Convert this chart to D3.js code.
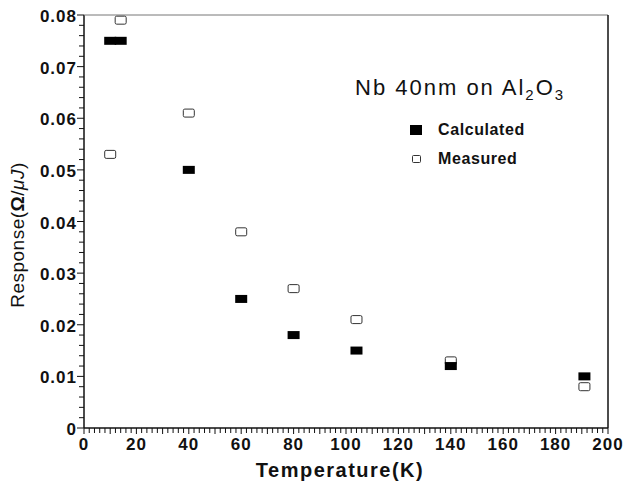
<!DOCTYPE html>
<html>
<head>
<meta charset="utf-8">
<script src="https://cdn.jsdelivr.net/npm/d3@7"></script>
<style>
  body { margin: 0; background: #fff; }
  svg text { font-family: "Liberation Sans", Arial, sans-serif; fill: #111; }
</style>
</head>
<body>
<div id="chart"></div>
<script>
// DATA
var calcTemp = [10, 14, 40, 60, 80, 104, 140, 191]
var calcResp = [0.075, 0.075, 0.050, 0.025, 0.018, 0.015, 0.012, 0.010]
var measTemp = [10, 14, 40, 60, 80, 104, 140, 191]
var measResp = [0.053, 0.079, 0.061, 0.038, 0.027, 0.021, 0.013, 0.008]
var xTicks = [0, 20, 40, 60, 80, 100, 120, 140, 160, 180, 200]
var yTicks = [0, 0.01, 0.02, 0.03, 0.04, 0.05, 0.06, 0.07, 0.08]

// GLOBAL
var width = 626
var height = 483
var margin = {top: 15, left: 84, bottom: 55, right: 18}

var svg = d3.select('#chart').append('svg')
  .attr('width', width)
  .attr('height', height)

var xMap = d3.scaleLinear()
  .domain([0, 200])
  .range([margin.left, width - margin.right])

var yMap = d3.scaleLinear()
  .domain([0, 0.08])
  .range([height - margin.bottom, margin.top])

// AXES
var xMinor = d3.range(0, 201, 2)
var gX = svg.append('g')
  .attr('transform', 'translate(0,' + yMap(0) + ')')
gX.selectAll('.xminor')
  .data(xMinor)
  .enter().append('line')
  .attr('x1', d => xMap(d)).attr('x2', d => xMap(d))
  .attr('y1', 0).attr('y2', d => d % 10 == 0 ? 6 : 5)
  .style('stroke', '#111').style('stroke-width', 1)
gX.append('line')
  .attr('x1', xMap(0)).attr('x2', xMap(200))
  .style('stroke', '#111').style('stroke-width', 1.5)
gX.selectAll('.xlab')
  .data(xTicks)
  .enter().append('text')
  .attr('x', d => xMap(d))
  .attr('y', 22)
  .style('text-anchor', 'middle')
  .style('font-size', '17px')
  .style('font-weight', 'bold')
  .style('letter-spacing', '1px')
  .text(d => d)

var yMinor = d3.range(0, 41).map(i => i * 0.002)
var gY = svg.append('g')
  .attr('transform', 'translate(' + xMap(0) + ',0)')
gY.selectAll('.yminor')
  .data(yMinor)
  .enter().append('line')
  .attr('x1', (d, i) => i % 5 == 0 ? -7 : -5).attr('x2', 0)
  .attr('y1', d => yMap(d)).attr('y2', d => yMap(d))
  .style('stroke', '#111').style('stroke-width', 1)
gY.append('line')
  .attr('y1', yMap(0)).attr('y2', yMap(0.08))
  .style('stroke', '#111').style('stroke-width', 1.5)
gY.selectAll('.ylab')
  .data(yTicks)
  .enter().append('text')
  .attr('x', -7)
  .attr('y', d => yMap(d) + 7)
  .style('text-anchor', 'end')
  .style('font-size', '17px')
  .style('font-weight', 'bold')
  .style('letter-spacing', '1px')
  .text(d => d == 0 ? '0' : d.toFixed(2))

// frame top and right
svg.append('line')
  .attr('x1', xMap(0)).attr('x2', xMap(200))
  .attr('y1', yMap(0.08)).attr('y2', yMap(0.08))
  .style('stroke', '#777').style('stroke-width', 1)
svg.append('line')
  .attr('x1', xMap(200)).attr('x2', xMap(200))
  .attr('y1', yMap(0.08)).attr('y2', yMap(0))
  .style('stroke', '#111').style('stroke-width', 1.5)

// axis titles
svg.append('text')
  .attr('x', 340)
  .attr('y', 477)
  .style('text-anchor', 'middle')
  .style('font-size', '20px')
  .style('font-weight', 'bold')
  .style('letter-spacing', '1.5px')
  .text('Temperature(K)')

var yTitle = svg.append('text')
  .attr('transform', 'translate(24,' + 235 + ') rotate(-90)')
  .style('text-anchor', 'middle')
  .style('font-size', '19px')
  .style('letter-spacing', '0.5px')
yTitle.append('tspan').text('Response(')
yTitle.append('tspan').style('font-weight', 'bold').text('Ω')
yTitle.append('tspan').text('/')
yTitle.append('tspan').style('font-style', 'italic').text('μJ')
yTitle.append('tspan').text(')')

// MARKS
var calcData = calcTemp.map((t, i) => ({t: t, r: calcResp[i]}))
var measData = measTemp.map((t, i) => ({t: t, r: measResp[i]}))

svg.append('g').selectAll('rect')
  .data(measData)
  .enter().append('rect')
  .attr('x', d => xMap(d.t) - 5.5)
  .attr('y', d => yMap(d.r) - 4)
  .attr('width', 11)
  .attr('height', 8)
  .attr('rx', 1.5)
  .style('fill', '#fff')
  .style('stroke', '#333')
  .style('stroke-width', 1)

svg.append('g').selectAll('rect')
  .data(calcData)
  .enter().append('rect')
  .attr('x', d => xMap(d.t) - 6)
  .attr('y', d => yMap(d.r) - 4)
  .attr('width', 12)
  .attr('height', 8)
  .style('fill', '#000')

// LEGEND
var title = svg.append('text')
  .attr('x', 355)
  .attr('y', 95)
  .style('font-size', '22px')
  .style('letter-spacing', '2px')
title.append('tspan').text('Nb 40nm on Al')
title.append('tspan').attr('dy', 5).style('font-size', '15px').text('2')
title.append('tspan').attr('dy', -5).text('O')
title.append('tspan').attr('dy', 5).style('font-size', '15px').text('3')

svg.append('rect')
  .attr('x', 410).attr('y', 125).attr('width', 12).attr('height', 10)
  .style('fill', '#000')
svg.append('text')
  .attr('x', 438).attr('y', 135)
  .style('font-size', '16px').style('font-weight', 'bold')
  .style('letter-spacing', '0.6px')
  .text('Calculated')

svg.append('rect')
  .attr('x', 412.5).attr('y', 155.5).attr('width', 8).attr('height', 7)
  .attr('rx', 1)
  .style('fill', '#fff').style('stroke', '#333').style('stroke-width', 1)
svg.append('text')
  .attr('x', 438).attr('y', 164)
  .style('font-size', '16px').style('font-weight', 'bold')
  .style('letter-spacing', '0.6px')
  .text('Measured')
</script>
</body>
</html>
